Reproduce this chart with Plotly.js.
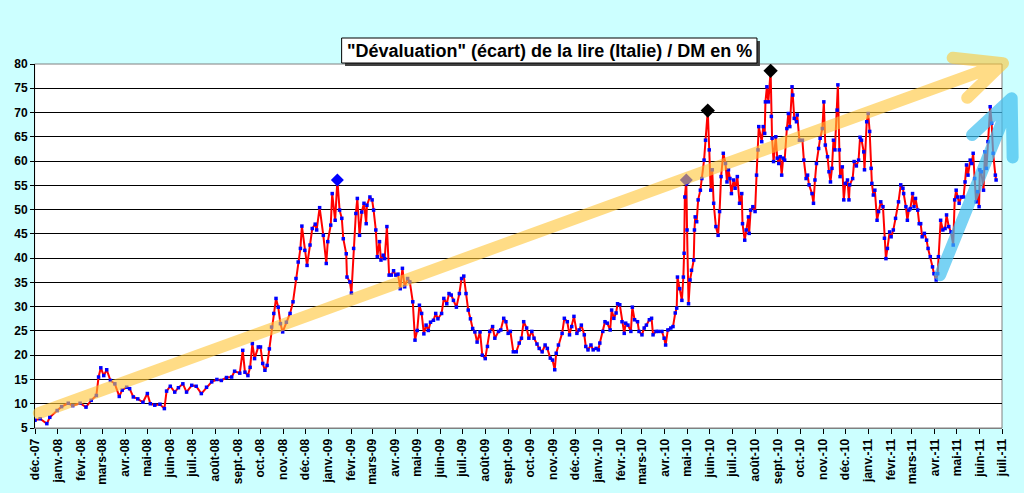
<!DOCTYPE html>
<html>
<head>
<meta charset="utf-8">
<script src="https://cdn.plot.ly/plotly-3.0.1.min.js"></script>
<style>
    body { margin: 0; background: #CCFFFF; }
    #chart { width: 1024px; height: 493px; }
    .shapelayer path { stroke-linecap: round; stroke-linejoin: round; }
</style>
</head>
<body>
<div id="chart"></div>
<script>
// Ecart lire / DM en %
const dates = [
    '2007-12-01','2007-12-08','2007-12-17','2007-12-21','2007-12-31',
    '2008-01-06','2008-01-15','2008-01-21','2008-01-31','2008-02-08','2008-02-15','2008-02-22','2008-02-25','2008-02-28',
    '2008-03-03','2008-03-07','2008-03-12','2008-03-18','2008-03-24','2008-03-28',
    '2008-04-03','2008-04-07','2008-04-12','2008-04-18','2008-04-25',
    '2008-05-01','2008-05-05','2008-05-11','2008-05-18','2008-05-24','2008-05-27',
    '2008-06-01','2008-06-07','2008-06-12','2008-06-18','2008-06-23','2008-06-30',
    '2008-07-06','2008-07-13','2008-07-20','2008-07-27',
    '2008-08-03','2008-08-09','2008-08-16','2008-08-23','2008-08-27',
    '2008-09-03','2008-09-07','2008-09-10','2008-09-14','2008-09-17','2008-09-20','2008-09-23','2008-09-28',
    '2008-10-01','2008-10-04','2008-10-07','2008-10-10','2008-10-13','2008-10-16','2008-10-19','2008-10-22','2008-10-25','2008-10-28','2008-10-31',
    '2008-11-05','2008-11-10','2008-11-14','2008-11-18','2008-11-21','2008-11-24','2008-11-26','2008-11-30',
    '2008-12-03','2008-12-07','2008-12-10','2008-12-14','2008-12-16','2008-12-20','2008-12-25','2008-12-29','2008-12-31',
    '2009-01-04','2009-01-06','2009-01-10','2009-01-13','2009-01-16','2009-01-19','2009-01-21','2009-01-25','2009-01-26','2009-01-30',
    '2009-02-01','2009-02-04','2009-02-07','2009-02-09','2009-02-12','2009-02-15','2009-02-18','2009-02-21','2009-02-22','2009-02-26',
    '2009-03-01','2009-03-03','2009-03-06','2009-03-08','2009-03-11','2009-03-13','2009-03-16','2009-03-18','2009-03-21','2009-03-24','2009-03-27','2009-03-30',
    '2009-04-02','2009-04-05','2009-04-08','2009-04-11','2009-04-14','2009-04-18','2009-04-21','2009-04-25','2009-04-28',
    '2009-05-01','2009-05-04','2009-05-07','2009-05-10','2009-05-13','2009-05-16','2009-05-19','2009-05-23','2009-05-26','2009-05-29',
    '2009-06-03','2009-06-06','2009-06-10','2009-06-13','2009-06-16','2009-06-19','2009-06-23','2009-06-27','2009-06-30',
    '2009-07-03','2009-07-06','2009-07-09','2009-07-12','2009-07-15','2009-07-18','2009-07-21','2009-07-25','2009-07-28',
    '2009-08-01','2009-08-04','2009-08-07','2009-08-11','2009-08-14','2009-08-19','2009-08-22','2009-08-26','2009-08-29',
    '2009-09-01','2009-09-04','2009-09-08','2009-09-12','2009-09-16','2009-09-19','2009-09-22','2009-09-26','2009-09-29',
    '2009-10-03','2009-10-06','2009-10-10','2009-10-13','2009-10-17','2009-10-21','2009-10-24','2009-10-28','2009-10-31',
    '2009-11-03','2009-11-05','2009-11-08','2009-11-13','2009-11-16','2009-11-20','2009-11-23','2009-11-26','2009-11-29',
    '2009-12-03','2009-12-06','2009-12-09','2009-12-13','2009-12-15','2009-12-18','2009-12-22','2009-12-25','2009-12-29',
    '2010-01-01','2010-01-03','2010-01-07','2010-01-10','2010-01-13','2010-01-17','2010-01-19','2010-01-22','2010-01-25','2010-01-27','2010-01-30',
    '2010-02-02','2010-02-05','2010-02-07','2010-02-10','2010-02-14','2010-02-16','2010-02-19','2010-02-23','2010-02-25',
    '2010-03-01','2010-03-04','2010-03-07','2010-03-11','2010-03-14','2010-03-16','2010-03-20','2010-03-23','2010-03-28','2010-03-31',
    '2010-04-02','2010-04-05','2010-04-09','2010-04-12','2010-04-15','2010-04-17','2010-04-18','2010-04-21','2010-04-24','2010-04-26','2010-04-27','2010-04-28','2010-04-30',
    '2010-05-01','2010-05-03','2010-05-05','2010-05-07','2010-05-10','2010-05-11','2010-05-12','2010-05-14','2010-05-16','2010-05-19','2010-05-21','2010-05-24','2010-05-26','2010-05-29','2010-05-31',
    '2010-06-02','2010-06-04','2010-06-06','2010-06-09','2010-06-12','2010-06-14','2010-06-16','2010-06-19','2010-06-22','2010-06-24','2010-06-26','2010-06-28','2010-06-30',
    '2010-07-03','2010-07-05','2010-07-08','2010-07-11','2010-07-14','2010-07-15','2010-07-18','2010-07-20','2010-07-23','2010-07-24','2010-07-26','2010-07-29',
    '2010-08-01','2010-08-03','2010-08-05','2010-08-06','2010-08-10','2010-08-12','2010-08-14','2010-08-15','2010-08-17','2010-08-19','2010-08-22','2010-08-23','2010-08-24','2010-08-26','2010-08-29','2010-08-31',
    '2010-09-02','2010-09-04','2010-09-06','2010-09-08','2010-09-10','2010-09-13','2010-09-15','2010-09-17','2010-09-20','2010-09-21','2010-09-23','2010-09-26','2010-09-27','2010-09-30',
    '2010-10-04','2010-10-06','2010-10-09','2010-10-11','2010-10-13','2010-10-17','2010-10-19','2010-10-21','2010-10-23','2010-10-26','2010-10-28','2010-10-31',
    '2010-11-02','2010-11-04','2010-11-07','2010-11-09','2010-11-11','2010-11-13','2010-11-15','2010-11-17','2010-11-20','2010-11-21','2010-11-23','2010-11-24','2010-11-27','2010-11-29',
    '2010-12-01','2010-12-04','2010-12-06','2010-12-07','2010-12-11','2010-12-13','2010-12-16','2010-12-19','2010-12-21','2010-12-23','2010-12-26','2010-12-27','2010-12-30',
    '2011-01-01','2011-01-03','2011-01-05','2011-01-06','2011-01-08','2011-01-10','2011-01-13','2011-01-15','2011-01-18','2011-01-21','2011-01-23','2011-01-25','2011-01-27','2011-01-30',
    '2011-02-01','2011-02-04','2011-02-07','2011-02-11','2011-02-14','2011-02-17','2011-02-18','2011-02-21','2011-02-23','2011-02-25','2011-02-27',
    '2011-03-02','2011-03-04','2011-03-06','2011-03-09','2011-03-11','2011-03-13','2011-03-15','2011-03-18','2011-03-21','2011-03-23','2011-03-26','2011-03-29','2011-03-31',
    '2011-04-03','2011-04-05','2011-04-06','2011-04-09','2011-04-12','2011-04-15','2011-04-17','2011-04-20','2011-04-23','2011-04-26','2011-04-28','2011-04-30',
    '2011-05-02','2011-05-04','2011-05-07','2011-05-10','2011-05-12','2011-05-14','2011-05-16','2011-05-19','2011-05-21','2011-05-23','2011-05-25','2011-05-27','2011-05-29','2011-05-31',
    '2011-06-01','2011-06-03','2011-06-06','2011-06-08','2011-06-10','2011-06-12','2011-06-15','2011-06-17','2011-06-19','2011-06-22','2011-06-23'
];

const ecart = [
    6.6, 6.9, 5.9, 7.2, 8.6,
    9.4, 10.1, 9.6, 10.1, 9.3, 10.7, 11.7, 15.5, 17.4,
    15.8, 17.0, 14.8, 14.1, 11.5, 12.8,
    13.4, 13.1, 11.4, 11.0, 10.3,
    12.1, 10.0, 9.7, 9.9, 9.0, 12.6,
    13.6, 12.4, 13.3, 14.1, 12.4, 13.8,
    13.6, 12.1, 13.4, 14.5,
    15.0, 14.8, 15.4, 15.5, 16.7,
    16.3, 21.0, 16.5, 15.8, 17.5, 22.4, 19.3, 21.7,
    21.7, 18.3, 16.9, 17.9, 21.3, 25.8, 28.6, 31.7, 29.9, 26.5, 24.8,
    26.8, 28.6, 31.0, 35.8, 39.2, 42.0, 46.6, 41.6,
    38.5, 42.7, 46.1, 47.0, 45.8, 50.4, 44.7, 38.9, 43.4,
    46.8, 53.3, 47.8, 56.1, 49.9, 48.2, 44.0, 40.9, 36.1, 35.1,
    32.8, 42.0, 49.2, 52.3, 44.7, 49.5, 51.3, 47.1, 50.9, 52.6,
    52.0, 49.9, 45.8, 40.3, 43.4, 39.6, 40.6, 39.9, 46.5, 36.5, 36.5, 37.4,
    36.5, 36.7, 33.7, 37.9, 34.1, 35.8, 35.1, 31.0, 23.1,
    25.1, 30.3, 28.6, 24.4, 26.2, 25.1, 26.8, 27.2, 28.6, 27.5,
    28.6, 31.7, 30.6, 32.7, 32.4, 31.3, 29.9, 32.7, 35.8,
    36.3, 32.7, 29.3, 27.5, 25.5, 24.8, 22.7, 24.8, 20.0,
    19.3, 21.8, 24.9, 25.9, 23.5, 24.9, 25.2, 27.6, 26.9,
    24.5, 24.9, 20.7, 20.7, 22.5, 23.5, 26.9, 25.6, 23.5,
    24.9, 23.5, 22.3, 21.4, 20.7, 22.1, 21.4, 19.4, 19.0,
    17.0, 20.4, 22.1, 24.5, 27.6, 26.9, 24.2, 25.9, 28.0,
    24.5, 25.2, 26.2, 24.2, 21.8, 21.1, 22.1, 21.1, 21.4,
    21.1, 22.5, 24.9, 26.9, 26.6, 25.2, 29.3, 27.6, 28.7, 30.6, 30.4,
    26.9, 24.5, 26.6, 26.2, 24.9, 29.9, 27.3, 26.9, 24.9,
    24.2, 25.6, 26.2, 27.3, 27.6, 24.2, 24.9, 24.9, 24.9, 23.5,
    22.1, 25.2, 25.6, 25.9, 28.7, 29.7, 36.1, 33.7, 31.3, 36.1, 41.0, 52.6, 56.1,
    45.8, 30.6, 35.5, 37.5, 39.6, 45.8, 48.5, 47.5, 52.0, 54.0, 56.4, 60.2, 64.3, 70.4, 62.3,
    54.0, 58.2, 51.3, 46.5, 44.7, 49.6, 56.8, 61.6, 59.5, 55.7, 58.2, 56.4, 53.3,
    56.1, 54.4, 56.8, 51.3, 53.3, 47.1, 43.7, 45.8, 48.5, 45.1, 49.9, 50.6,
    49.6, 57.1, 62.3, 67.1, 64.0, 67.1, 65.7, 72.2, 75.3, 72.2, 78.6, 69.2, 64.7, 59.9, 65.0, 60.6,
    59.5, 60.9, 57.1, 60.6, 60.2, 66.7, 69.8, 67.1, 75.3, 73.6, 68.8, 68.1, 69.5, 64.3,
    64.3, 60.2, 56.4, 57.1, 55.1, 53.3, 51.3, 56.1, 59.5, 62.6, 64.7, 66.7,
    72.2, 63.3, 60.9, 57.8, 55.7, 58.5, 64.3, 62.3, 70.5, 75.7, 62.3, 56.8, 58.8, 52.0,
    55.4, 56.1, 52.0, 55.1, 56.4, 59.9, 59.0, 60.2, 64.9, 64.3, 61.9, 58.2, 68.1,
    69.8, 66.1, 58.5, 55.4, 53.0, 54.0, 47.8, 49.6, 51.6, 50.6, 44.1, 39.9, 42.0, 45.4,
    44.4, 45.8, 48.2, 51.6, 55.1, 54.4, 53.3, 50.6, 47.8, 49.9, 50.2,
    53.3, 50.6, 52.3, 49.9, 47.1, 47.1, 44.4, 45.1, 43.7, 42.0, 40.3, 38.2, 36.8,
    35.5, 36.8, 40.3, 47.8, 45.8, 46.1, 48.9, 46.5, 45.4, 42.7, 52.0, 54.0,
    52.6, 51.3, 52.6, 52.6, 55.7, 59.2, 57.1, 60.2, 59.5, 61.6, 56.4, 51.6, 53.7, 50.6,
    58.2, 57.8, 54.0, 61.9, 58.5, 64.0, 71.2, 67.8, 61.6, 57.1, 56.1
];

// points mis en valeur (losanges)
const blueDates = ['2009-01-13', '2010-04-30'];
const blueValues = [56.1, 56.1];
const blackDates = ['2010-05-29', '2010-08-22'];
const blackValues = [70.4, 78.6];

const monthTicks = [
    '2007-12-01','2008-01-01','2008-02-01','2008-03-01','2008-04-01','2008-05-01','2008-06-01',
    '2008-07-01','2008-08-01','2008-09-01','2008-10-01','2008-11-01','2008-12-01',
    '2009-01-01','2009-02-01','2009-03-01','2009-04-01','2009-05-01','2009-06-01',
    '2009-07-01','2009-08-01','2009-09-01','2009-10-01','2009-11-01','2009-12-01',
    '2010-01-01','2010-02-01','2010-03-01','2010-04-01','2010-05-01','2010-06-01',
    '2010-07-01','2010-08-01','2010-09-01','2010-10-01','2010-11-01','2010-12-01',
    '2011-01-01','2011-02-01','2011-03-01','2011-04-01','2011-05-01','2011-06-01','2011-07-01'
];
const monthLabels = [
    'déc.-07','janv.-08','févr.-08','mars-08','avr.-08','mai-08','juin-08',
    'juil.-08','août-08','sept.-08','oct.-08','nov.-08','déc.-08',
    'janv.-09','févr.-09','mars-09','avr.-09','mai-09','juin-09',
    'juil.-09','août-09','sept.-09','oct.-09','nov.-09','déc.-09',
    'janv.-10','févr.-10','mars-10','avr.-10','mai-10','juin-10',
    'juil.-10','août-10','sept.-10','oct.-10','nov.-10','déc.-10',
    'janv.-11','févr.-11','mars-11','avr.-11','mai-11','juin-11','juil.-11'
];

const FONT = 'Liberation Sans, Arial, sans-serif';

const traces = [
    {
        x: dates,
        y: ecart,
        type: 'scatter',
        mode: 'lines+markers',
        line: { color: '#FF0000', width: 2 },
        marker: { color: '#0000FF', size: 3.5, symbol: 'square' },
        hoverinfo: 'x+y'
    },
    {
        x: blueDates,
        y: blueValues,
        type: 'scatter',
        mode: 'markers',
        marker: { color: '#0000FF', size: 10, symbol: 'diamond' }
    },
    {
        x: blackDates,
        y: blackValues,
        type: 'scatter',
        mode: 'markers',
        marker: { color: '#000000', size: 11, symbol: 'diamond' }
    }
];

// fleches de tendance, en coordonnees papier
const yellowArrow = 'M 0.004,0.041 L 1.001,1.002 M 0.949,1.017 L 1.001,1.002 L 0.964,0.907';
const blueArrow = 'M 0.936,0.420 L 1.010,0.906 M 0.969,0.805 L 1.010,0.906 L 1.011,0.743';

const layout = {
    width: 1024,
    height: 493,
    margin: { l: 35, r: 22, t: 64, b: 65 },
    paper_bgcolor: '#CCFFFF',
    plot_bgcolor: '#FFFFFF',
    showlegend: false,
    font: { family: FONT, color: '#000000' },
    xaxis: {
        type: 'date',
        range: ['2007-12-01', '2011-07-01'],
        tickmode: 'array',
        tickvals: monthTicks,
        ticktext: monthLabels,
        tickangle: -90,
        tickfont: { family: FONT, size: 12, weight: 'bold', color: '#000000' },
        ticks: 'outside',
        ticklen: 5,
        tickcolor: '#000000',
        showgrid: false,
        showline: true,
        linecolor: '#808080',
        zeroline: false,
        automargin: false
    },
    yaxis: {
        range: [5, 80],
        tick0: 5,
        dtick: 5,
        tickfont: { family: FONT, size: 12, weight: 'bold', color: '#000000' },
        ticks: 'outside',
        ticklen: 4,
        tickcolor: '#000000',
        showgrid: true,
        gridcolor: '#000000',
        gridwidth: 1,
        showline: true,
        linecolor: '#000000',
        zeroline: false,
        automargin: false
    },
    shapes: [
        { type: 'rect', xref: 'paper', yref: 'paper', x0: 0, x1: 1, y0: 0, y1: 1,
          line: { color: '#808080', width: 1 }, layer: 'below' },
        { type: 'path', xref: 'paper', yref: 'paper', path: yellowArrow,
          line: { color: '#FFC636', width: 12 }, opacity: 0.6 },
        { type: 'path', xref: 'paper', yref: 'paper', path: blueArrow,
          line: { color: '#40BFF0', width: 12 }, opacity: 0.7 },
        // cadre du titre avec ombre
        { type: 'rect', xref: 'paper', yref: 'paper', x0: 0.3206, x1: 0.7497, y0: 0.9945, y1: 1.0632,
          fillcolor: '#404040', line: { width: 0 } },
        { type: 'rect', xref: 'paper', yref: 'paper', x0: 0.3175, x1: 0.7466, y0: 1.0027, y1: 1.0714,
          fillcolor: '#FFFFFF', line: { color: '#000000', width: 1 } }
    ],
    annotations: [
        {
            xref: 'paper', yref: 'paper', x: 0.532, y: 1.037,
            xanchor: 'center', yanchor: 'middle',
            text: '"Dévaluation" (écart) de la lire (Italie) / DM en %',
            showarrow: false,
            font: { family: FONT, size: 18, weight: 'bold', color: '#000000' }
        }
    ]
};

Plotly.newPlot('chart', traces, layout, { displayModeBar: false, staticPlot: true });
</script>
</body>
</html>
